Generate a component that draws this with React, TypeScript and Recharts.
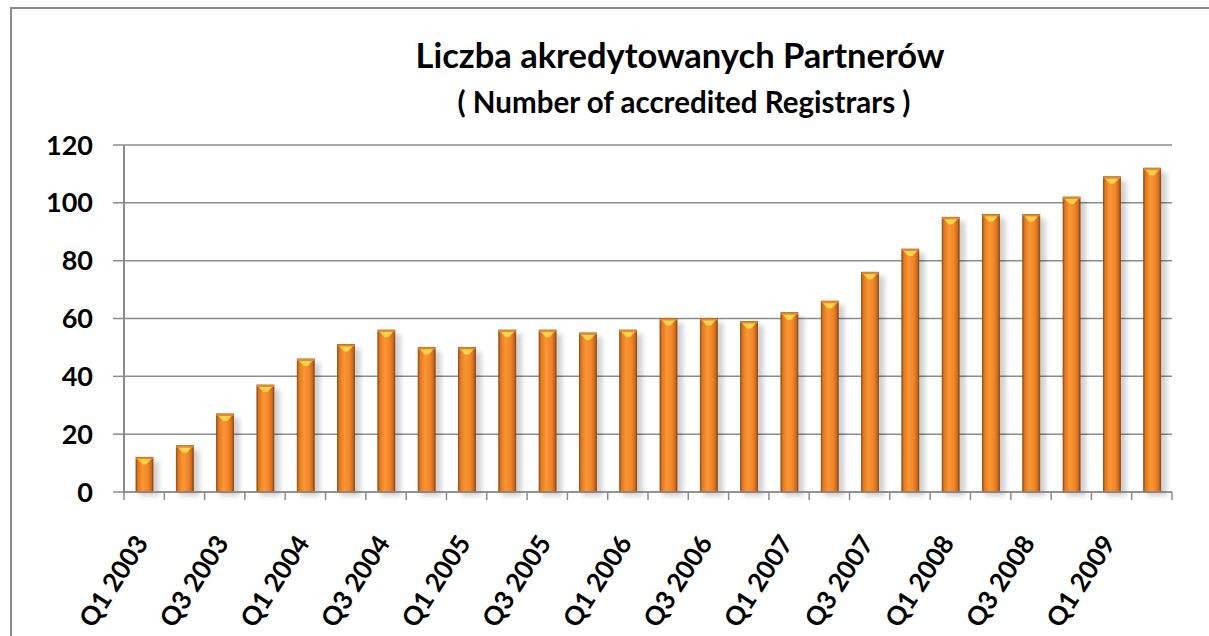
import React from "react";
import {
  BarChart,
  Bar,
  XAxis,
  YAxis,
  CartesianGrid,
} from "recharts";

const quarters = [
  "Q1 2003", "Q2 2003", "Q3 2003", "Q4 2003",
  "Q1 2004", "Q2 2004", "Q3 2004", "Q4 2004",
  "Q1 2005", "Q2 2005", "Q3 2005", "Q4 2005",
  "Q1 2006", "Q2 2006", "Q3 2006", "Q4 2006",
  "Q1 2007", "Q2 2007", "Q3 2007", "Q4 2007",
  "Q1 2008", "Q2 2008", "Q3 2008", "Q4 2008",
  "Q1 2009", "Q2 2009",
];

const registrars = [
  12, 16, 27, 37,
  46, 51, 56, 50,
  50, 56, 56, 55,
  56, 60, 60, 59,
  62, 66, 76, 84,
  95, 96, 96, 102,
  109, 112,
];

const yTicks = [0, 20, 40, 60, 80, 100, 120];

const data = quarters.map((q, i) => ({ quarter: q, value: registrars[i] }));

const CHART_W = 1197;
const CHART_H = 627;
const Y_AXIS_W = 112;
const RIGHT = 37;
const BAND = (CHART_W - Y_AXIS_W - RIGHT) / quarters.length;
const FONT = "Lato, 'Open Sans', sans-serif";
const GRID = "#8c8c8c";

const BarShape = (props: any) => {
  const { x, y, width, height } = props;
  if (!height || height <= 0) return null;
  return (
    <g>
      <rect
        x={x + 3}
        y={y + 4}
        width={width + 3}
        height={height}
        fill="#000"
        opacity={0.18}
        filter="url(#barShadow)"
      />
      <rect
        x={x}
        y={y}
        width={width}
        height={height}
        fill="url(#barGrad)"
        stroke="#8a4710"
        strokeWidth={0.8}
      />
      <rect x={x} y={y} width={width} height={2} fill="#e88a2a" />
      <path
        d={`M${x + 2},${y + 2} L${x + width - 2},${y + 2} L${x + width / 2 + 2},${y + 7} L${x + width / 2 - 2},${y + 7} Z`}
        fill="#ffd54a"
      />
    </g>
  );
};

const XTick = (props: any) => {
  const { x, y, index, payload } = props;
  const half = BAND / 2;
  return (
    <g>
      <line x1={x - half} x2={x - half} y1={y} y2={y + 8} stroke={GRID} strokeWidth={1.5} />
      {index === quarters.length - 1 && (
        <line x1={x + half} x2={x + half} y1={y} y2={y + 8} stroke={GRID} strokeWidth={1.5} />
      )}
      {index % 2 === 0 && (
        <text
          transform={`translate(${x + 5},${y + 51}) rotate(-57)`}
          textAnchor="end"
          fontFamily={FONT}
          fontWeight={700}
          fontSize={26}
          fill="#000"
        >
          {payload.value}
        </text>
      )}
    </g>
  );
};

export default function App() {
  return (
    <div
      style={{
        position: "fixed",
        left: 10,
        top: 7,
        width: 1260,
        height: 680,
        borderLeft: `2px solid ${GRID}`,
        borderTop: `2px solid ${GRID}`,
        boxSizing: "border-box",
        background: "#fff",
        fontFamily: FONT,
        overflow: "hidden",
      }}
    >
      <div
        style={{
          position: "absolute",
          left: 668,
          top: 26,
          transform: "translateX(-50%)",
          whiteSpace: "nowrap",
          fontSize: 34.5,
          fontWeight: 700,
          lineHeight: "40px",
          color: "#000",
        }}
      >
        Liczba akredytowanych Partnerów
      </div>
      <div
        style={{
          position: "absolute",
          left: 672,
          top: 77,
          transform: "translateX(-50%)",
          whiteSpace: "nowrap",
          fontSize: 29.5,
          fontWeight: 700,
          lineHeight: "32px",
          color: "#000",
        }}
      >
        ( Number of accredited Registrars )
      </div>
      <div style={{ width: CHART_W - 12, height: CHART_H, overflow: "hidden" }}>
        <BarChart
          width={CHART_W}
          height={CHART_H}
          data={data}
          margin={{ top: 136, right: RIGHT, bottom: 0, left: 0 }}
          barSize={17}
          accessibilityLayer={false}
          style={{ outline: "none" }}
        >
          <defs>
            <linearGradient id="barGrad" x1="0" y1="0" x2="1" y2="0">
              <stop offset="0%" stopColor="#a9530f" />
              <stop offset="12%" stopColor="#e07a22" />
              <stop offset="40%" stopColor="#fb9633" />
              <stop offset="70%" stopColor="#f0862a" />
              <stop offset="90%" stopColor="#cd6a1b" />
              <stop offset="100%" stopColor="#8f4610" />
            </linearGradient>
            <filter id="barShadow" x="-50%" y="-10%" width="200%" height="130%">
              <feGaussianBlur stdDeviation="2.5" />
            </filter>
          </defs>
          <CartesianGrid vertical={false} stroke={GRID} strokeWidth={1.5} />
          <XAxis
            dataKey="quarter"
            interval={0}
            height={144}
            tickLine={false}
            tickSize={0}
            tickMargin={0}
            axisLine={{ stroke: GRID, strokeWidth: 1.5 }}
            tick={(p: any) => <XTick {...p} />}
          />
          <YAxis
            width={Y_AXIS_W}
            domain={[0, 120]}
            ticks={yTicks}
            interval={0}
            tickSize={11}
            tickMargin={20}
            axisLine={{ stroke: GRID, strokeWidth: 2 }}
            tickLine={{ stroke: GRID, strokeWidth: 1.5 }}
            tick={{ fill: "#000", fontSize: 27, fontWeight: 700, fontFamily: FONT }}
          />
          <Bar
            dataKey="value"
            shape={(p: any) => <BarShape {...p} />}
            isAnimationActive={false}
          />
        </BarChart>
      </div>
    </div>
  );
}
